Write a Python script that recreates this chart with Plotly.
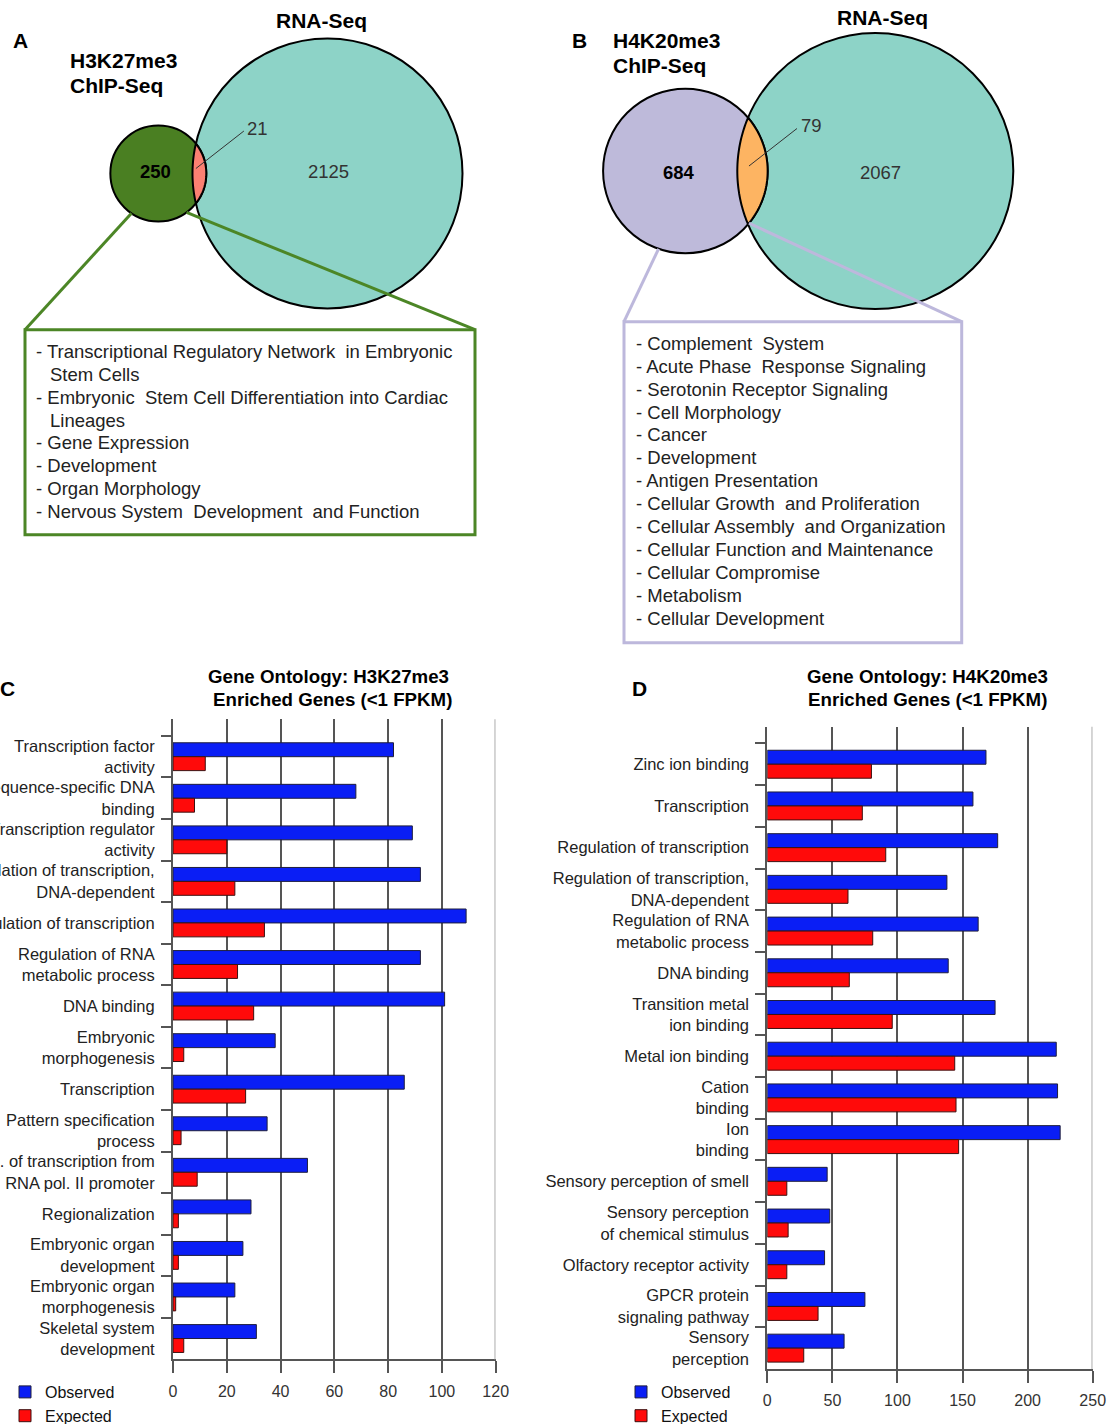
import math
import plotly.graph_objects as go

W, H = 1112, 1424
FONT = "Liberation Sans, Arial, Helvetica, sans-serif"

# ---------------- Venn counts (ChIP-only, shared, RNA-only) ----------------
h3k27_chip_only, h3k27_shared, h3k27_rna_only = 250, 21, 2125
h4k20_chip_only, h4k20_shared, h4k20_rna_only = 684, 79, 2067

# ---------------- Pathways of the ChIP-only genes ----------------
pathways_h3k27 = [
    ["Transcriptional Regulatory Network  in Embryonic", "Stem Cells"],
    ["Embryonic  Stem Cell Differentiation into Cardiac", "Lineages"],
    ["Gene Expression"],
    ["Development"],
    ["Organ Morphology"],
    ["Nervous System  Development  and Function"],
]
pathways_h4k20 = [
    ["Complement  System"],
    ["Acute Phase  Response Signaling"],
    ["Serotonin Receptor Signaling"],
    ["Cell Morphology"],
    ["Cancer"],
    ["Development"],
    ["Antigen Presentation"],
    ["Cellular Growth  and Proliferation"],
    ["Cellular Assembly  and Organization"],
    ["Cellular Function and Maintenance"],
    ["Cellular Compromise"],
    ["Metabolism"],
    ["Cellular Development"],
]

# ---------------- GO enrichment: H3K27me3 ----------------
go_c_terms = [
    "Transcription factor<br>activity",
    "Sequence-specific DNA<br>binding",
    "Transcription regulator<br>activity",
    "Regulation of transcription,<br>DNA-dependent",
    "Regulation of transcription",
    "Regulation of RNA<br>metabolic process",
    "DNA binding",
    "Embryonic<br>morphogenesis",
    "Transcription",
    "Pattern specification<br>process",
    "Reg. of transcription from<br>RNA pol. II promoter",
    "Regionalization",
    "Embryonic organ<br>development",
    "Embryonic organ<br>morphogenesis",
    "Skeletal system<br>development",
]
go_c_observed = [82, 68, 89, 92, 109, 92, 101, 38, 86, 35, 50, 29, 26, 23, 31]
go_c_expected = [12, 8, 20, 23, 34, 24, 30, 4, 27, 3, 9, 2, 2, 1, 4]
go_c_ticks = [0, 20, 40, 60, 80, 100, 120]

# ---------------- GO enrichment: H4K20me3 ----------------
go_d_terms = [
    "Zinc ion binding",
    "Transcription",
    "Regulation of transcription",
    "Regulation of transcription,<br>DNA-dependent",
    "Regulation of RNA<br>metabolic process",
    "DNA binding",
    "Transition metal<br>ion binding",
    "Metal ion binding",
    "Cation<br>binding",
    "Ion<br>binding",
    "Sensory perception of smell",
    "Sensory perception<br>of chemical stimulus",
    "Olfactory receptor activity",
    "GPCR protein<br>signaling pathway",
    "Sensory<br>perception",
]
go_d_observed = [168, 158, 177, 138, 162, 139, 175, 222, 223, 225, 46, 48, 44, 75, 59]
go_d_expected = [80, 73, 91, 62, 81, 63, 96, 144, 145, 147, 15, 16, 15, 39, 28]
go_d_ticks = [0, 50, 100, 150, 200, 250]

# ---------------- styling ----------------
BLUE, RED, EDGE = "#0A1EF5", "#FF0A0A", "#1E1E3C"
GRID, GRID_LIGHT = "#555555", "#C8C8C8"
TEAL, LAVENDER, SALMON, ORANGE = "#8DD3C7", "#BEBADA", "#FB8072", "#FDB462"
GREEN = "#4A7F22"
TXT = "#222222"


def xdom(p0, p1):
    return [p0 / W, p1 / W]


def ydom(top, bottom):
    return [1 - bottom / H, 1 - top / H]


# ---------------- area-proportional Venn geometry ----------------
def lens_area(r1, r2, d):
    if d >= r1 + r2:
        return 0.0
    if d <= abs(r2 - r1):
        return math.pi * min(r1, r2) ** 2
    a1 = r1 * r1 * math.acos((d * d + r1 * r1 - r2 * r2) / (2 * d * r1))
    a2 = r2 * r2 * math.acos((d * d + r2 * r2 - r1 * r1) / (2 * d * r2))
    tri = 0.5 * math.sqrt((-d + r1 + r2) * (d + r1 - r2) * (d - r1 + r2) * (d + r1 + r2))
    return a1 + a2 - tri


def venn(chip_only, shared, rna_only, rna_cx, cy, rna_r):
    k = rna_r / math.sqrt(shared + rna_only)          # px per sqrt(gene)
    r1 = k * math.sqrt(chip_only + shared)
    target = math.pi * k * k * shared
    lo, hi = abs(rna_r - r1), r1 + rna_r
    for _ in range(80):
        mid = (lo + hi) / 2
        if lens_area(r1, rna_r, mid) > target:
            lo = mid
        else:
            hi = mid
    d = (lo + hi) / 2
    return dict(cx1=rna_cx - d, r1=r1, cx2=rna_cx, r2=rna_r, cy=cy, d=d)


def lens_path(g, n=48):
    r1, r2, d, cy = g["r1"], g["r2"], g["d"], g["cy"]
    a = (d * d + r1 * r1 - r2 * r2) / (2 * d)
    alpha = math.acos(a / r1)
    beta = math.acos((d - a) / r2)
    pts = []
    for i in range(n + 1):
        t = -alpha + 2 * alpha * i / n
        pts.append((g["cx1"] + r1 * math.cos(t), cy + r1 * math.sin(t)))
    for i in range(n + 1):
        p = math.pi - beta + 2 * beta * i / n
        pts.append((g["cx2"] + r2 * math.cos(p), cy + r2 * math.sin(p)))
    return "M" + " L".join(f"{x:.2f},{y:.2f}" for x, y in pts) + " Z"


def on_small(g, deg):
    t = math.radians(deg)
    return g["cx1"] + g["r1"] * math.cos(t), g["cy"] + g["r1"] * math.sin(t)


va = venn(h3k27_chip_only, h3k27_shared, h3k27_rna_only, 327.5, 173.5, 135)
vb = venn(h4k20_chip_only, h4k20_shared, h4k20_rna_only, 875.3, 171.0, 138)

fig = go.Figure()

# ---------------- bars ----------------
fig.add_trace(go.Bar(y=go_c_terms, x=go_c_observed, orientation="h", name="Observed",
                     marker=dict(color=BLUE, line=dict(color=EDGE, width=1)),
                     xaxis="x", yaxis="y", legend="legend", hoverinfo="x+y"))
fig.add_trace(go.Bar(y=go_c_terms, x=go_c_expected, orientation="h", name="Expected",
                     marker=dict(color=RED, line=dict(color="#3C1010", width=1)),
                     xaxis="x", yaxis="y", legend="legend", hoverinfo="x+y"))
fig.add_trace(go.Bar(y=go_d_terms, x=go_d_observed, orientation="h", name="Observed",
                     marker=dict(color=BLUE, line=dict(color=EDGE, width=1)),
                     xaxis="x2", yaxis="y2", legend="legend2", hoverinfo="x+y"))
fig.add_trace(go.Bar(y=go_d_terms, x=go_d_expected, orientation="h", name="Expected",
                     marker=dict(color=RED, line=dict(color="#3C1010", width=1)),
                     xaxis="x2", yaxis="y2", legend="legend2", hoverinfo="x+y"))


def value_axis(dom, ticks, anchor):
    return dict(domain=dom, range=[ticks[0], ticks[-1]], tickvals=ticks, anchor=anchor,
                showgrid=True, gridcolor=GRID, gridwidth=2, zeroline=False,
                showline=True, linecolor=GRID, linewidth=2,
                ticks="outside", ticklen=12, tickwidth=2, tickcolor=GRID,
                ticklabelstandoff=4, automargin=False,
                tickfont=dict(size=16, color="#333333", family=FONT), fixedrange=True)


def category_axis(dom, terms, anchor):
    return dict(domain=dom, type="category", categoryorder="array", categoryarray=terms,
                range=[len(terms) - 0.5, -0.9], anchor=anchor,
                showgrid=False, zeroline=False, showline=True, linecolor=GRID, linewidth=2,
                ticks="outside", tickson="boundaries", ticklen=10, tickwidth=2, tickcolor=GRID,
                tickfont=dict(size=16.5, color=TXT, family=FONT),
                ticklabelstandoff=13, automargin=False, fixedrange=True)


layout_shapes = []
annotations = []

# light outer edge line at the right of each bar chart
layout_shapes.append(dict(type="line", xref="x", yref="y domain", x0=go_c_ticks[-1], x1=go_c_ticks[-1],
                          y0=0, y1=1, line=dict(color=GRID_LIGHT, width=3), layer="above"))
layout_shapes.append(dict(type="line", xref="x2", yref="y2 domain", x0=go_d_ticks[-1], x1=go_d_ticks[-1],
                          y0=0, y1=1, line=dict(color=GRID_LIGHT, width=3), layer="above"))


def add_venn(g, chip_color, lens_color, link_color, link_angles, box):
    layout_shapes.append(dict(type="circle", xref="x3", yref="y3",
                              x0=g["cx2"] - g["r2"], x1=g["cx2"] + g["r2"],
                              y0=g["cy"] - g["r2"], y1=g["cy"] + g["r2"],
                              fillcolor=TEAL, line=dict(color="black", width=2)))
    layout_shapes.append(dict(type="circle", xref="x3", yref="y3",
                              x0=g["cx1"] - g["r1"], x1=g["cx1"] + g["r1"],
                              y0=g["cy"] - g["r1"], y1=g["cy"] + g["r1"],
                              fillcolor=chip_color, line=dict(color="black", width=2)))
    layout_shapes.append(dict(type="path", xref="x3", yref="y3", path=lens_path(g),
                              fillcolor=lens_color, line=dict(color="black", width=2)))
    # pathway box and its connectors (connectors run over the circles)
    bx0, by0, bx1, by1 = box
    layout_shapes.append(dict(type="rect", xref="x3", yref="y3", x0=bx0, x1=bx1, y0=by0, y1=by1,
                              fillcolor="white", line=dict(color=link_color, width=3)))
    p_left = on_small(g, link_angles[0])
    p_right = on_small(g, link_angles[1])
    layout_shapes.append(dict(type="line", xref="x3", yref="y3", x0=p_left[0], y0=p_left[1],
                              x1=bx0, y1=by0, line=dict(color=link_color, width=3)))
    layout_shapes.append(dict(type="line", xref="x3", yref="y3", x0=p_right[0], y0=p_right[1],
                              x1=bx1, y1=by0, line=dict(color=link_color, width=3)))
    # shared-count leader line
    lens_cx = ((g["cx2"] - g["r2"]) + (g["cx1"] + g["r1"])) / 2
    sx, sy = lens_cx - 3.5, g["cy"] - 5
    ex, ey = sx + 48, sy - 37.5
    layout_shapes.append(dict(type="line", xref="x3", yref="y3", x0=sx, y0=sy, x1=ex, y1=ey,
                              line=dict(color="#333333", width=1)))
    return ex, ey


def txt(x, y, text, size, xanchor="center", color=TXT, bold=False):
    annotations.append(dict(x=x, y=y, xref="x3", yref="y3", text=f"<b>{text}</b>" if bold else text,
                            showarrow=False, xanchor=xanchor, yanchor="middle",
                            font=dict(size=size, color=color, family=FONT)))


# Panel A
ea = add_venn(va, GREEN, SALMON, "#4C8626", (124, 54), (25, 329.7, 475, 534.7))
txt(20, 40, "A", 21, bold=True, color="black")
txt(321.3, 20, "RNA-Seq", 21, bold=True, color="black")
txt(68, 60, "H3K27me3", 21, xanchor="left", bold=True, color="black")
txt(68, 85, "ChIP-Seq", 21, xanchor="left", bold=True, color="black")
txt(155, 171, str(h3k27_chip_only), 18.5, bold=True, color="black")
txt(328.3, 171, str(h3k27_rna_only), 18.5, color="#333333")
txt(ea[0] + 1, ea[1] - 3, str(h3k27_shared), 18.5, xanchor="left", color="#333333")

# Panel B
eb = add_venn(vb, LAVENDER, ORANGE, "#BDB8DC", (109, 39.4), (624, 321.7, 961.7, 642.7))
txt(579, 40, "B", 21, bold=True, color="black")
txt(882.5, 17, "RNA-Seq", 21, bold=True, color="black")
txt(611, 40, "H4K20me3", 21, xanchor="left", bold=True, color="black")
txt(611, 65, "ChIP-Seq", 21, xanchor="left", bold=True, color="black")
txt(679.3, 172, str(h4k20_chip_only), 18.5, bold=True, color="black")
txt(880, 172, str(h4k20_rna_only), 18.5, color="#333333")
txt(eb[0] + 2, eb[1] - 3, str(h4k20_shared), 18.5, xanchor="left", color="#333333")


def pathway_lines(items, x0, y0, step, indent=14):
    y = y0
    for item in items:
        for j, line in enumerate(item):
            if j == 0:
                txt(x0, y, "- " + line, 18.5, xanchor="left")
            else:
                txt(x0 + indent, y, line, 18.5, xanchor="left")
            y += step


pathway_lines(pathways_h3k27, 33.5, 351.3, 22.9)
pathway_lines(pathways_h4k20, 633.5, 343.3, 22.9)

# Panels C and D headings
txt(7, 688, "C", 21, bold=True, color="black")
txt(328.3, 676.7, "Gene Ontology: H3K27me3", 18.7, bold=True, color="black")
txt(332.3, 699.3, "Enriched Genes (&lt;1 FPKM)", 18.7, bold=True, color="black")
txt(639, 688, "D", 21, bold=True, color="black")
txt(927, 676.7, "Gene Ontology: H4K20me3", 18.7, bold=True, color="black")
txt(927, 699.3, "Enriched Genes (&lt;1 FPKM)", 18.7, bold=True, color="black")

legend_style = dict(bgcolor="rgba(0,0,0,0)", font=dict(size=16, color="#111111", family=FONT),
                    traceorder="normal", tracegroupgap=0, itemclick=False, itemdoubleclick=False,
                    xanchor="left", yanchor="top", orientation="v")

fig.update_layout(
    width=W, height=H, margin=dict(l=0, r=0, t=0, b=0, autoexpand=False),
    paper_bgcolor="white", plot_bgcolor="rgba(0,0,0,0)",
    font=dict(family=FONT, color=TXT),
    barmode="group", bargap=0.33, bargroupgap=0,
    xaxis=value_axis(xdom(173, 495.7), go_c_ticks, "y"),
    yaxis=category_axis(ydom(719.3, 1359.3), go_c_terms, "x"),
    xaxis2=value_axis(xdom(767.3, 1092.7), go_d_ticks, "y2"),
    yaxis2=category_axis(ydom(726.7, 1369), go_d_terms, "x2"),
    xaxis3=dict(domain=[0, 1], range=[0, W], visible=False, anchor="y3", fixedrange=True),
    yaxis3=dict(domain=[0, 1], range=[H, 0], visible=False, anchor="x3", fixedrange=True),
    legend=dict(x=5 / W, y=1 - 1375 / H, **legend_style),
    legend2=dict(x=621 / W, y=1 - 1375 / H, **legend_style),
    shapes=layout_shapes,
    annotations=annotations,
    showlegend=True,
)

fig.write_html("out.html", config=dict(displayModeBar=False))
